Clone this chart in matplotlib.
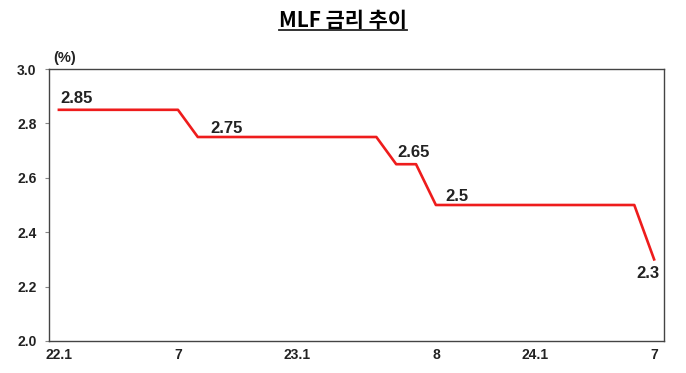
import matplotlib.pyplot as plt
from matplotlib.lines import Line2D

plt.rcParams['font.family'] = ['Liberation Sans', 'Noto Sans CJK KR', 'DejaVu Sans']

# monthly MLF rate, 2022.1 ~ 2024.7
rates = [2.85] * 7 + [2.75] * 10 + [2.65] * 2 + [2.5] * 11 + [2.3]
x = list(range(len(rates)))

tick_pos = [0, 6, 12, 19, 24, 30]
tick_labels = ['22.1', '7', '23.1', '8', '24.1', '7']

# labelled points: (index, value, offset)
notes = [(0, 2.85, (1, 3), 'left', 'bottom'),
         (7, 2.75, (9, 1), 'left', 'bottom'),
         (17, 2.65, (1, 3), 'left', 'bottom'),
         (19, 2.5, (7, 1), 'left', 'bottom'),
         (30, 2.3, (4, -5), 'right', 'top')]

fig = plt.figure(figsize=(6.86, 3.73), dpi=100)
ax = fig.add_axes([0.0714, 0.0858, 0.8966, 0.7292])

ax.plot(x, rates, color='#ee1c1c', lw=1.9)

ax.set_xlim(-0.5, len(rates) - 0.5)
ax.set_ylim(2.0, 3.0)
ax.set_yticks([2.0, 2.2, 2.4, 2.6, 2.8, 3.0])
ax.set_yticklabels(['2.0', '2.2', '2.4', '2.6', '2.8', '3.0'], fontsize=10, fontweight='bold', color='#222222')
ax.set_xticks(tick_pos)
ax.set_xticklabels(tick_labels, fontsize=10, fontweight='bold', color='#222222')
ax.tick_params(axis='x', length=0, pad=5)
ax.tick_params(axis='y', length=3, width=0.8, color='#888888', pad=6)
for s in ax.spines.values():
    s.set_color('#444444')
    s.set_linewidth(1.0)

for i, v, off, ha, va in notes:
    ax.annotate(str(v), (i, v), xytext=off, textcoords='offset points',
                ha=ha, va=va, fontsize=12, fontweight='bold', color='#222222')

fig.text(0.077, 0.825, '(%)', fontsize=10.5, fontweight='bold', color='#222222', va='bottom')

t = fig.text(0.5, 0.945, 'MLF 금리 추이', ha='center', va='center', fontsize=15,
             fontweight='bold', family=['Noto Sans CJK KR', 'DejaVu Sans'])
fig.canvas.draw()
bb = t.get_window_extent().transformed(fig.transFigure.inverted())
fig.add_artist(Line2D([bb.x0, bb.x1], [bb.y0 + 0.004, bb.y0 + 0.004], color='#222222', lw=1.3))

fig.savefig('out.png', dpi=100)
